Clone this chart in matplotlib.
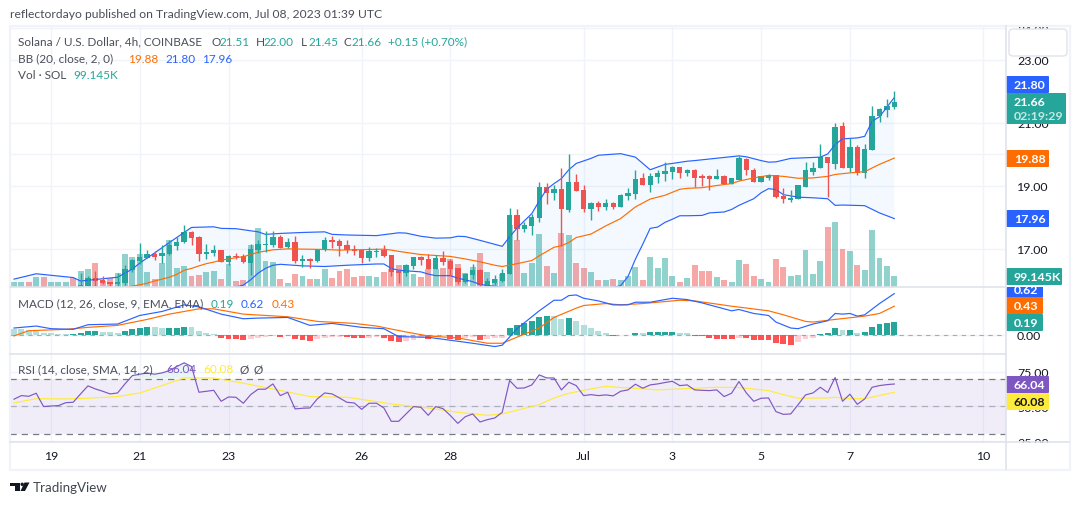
import matplotlib
matplotlib.use("Agg")
import matplotlib.pyplot as plt
import numpy as np
from matplotlib.patches import Circle, FancyBboxPatch, Polygon, Rectangle

# SOL/USD 4h candles
OPENS = [15.62, 15.66, 15.70, 15.64, 15.82, 15.66, 15.65, 15.60, 15.70, 15.79,
         15.82, 16.09, 16.01, 15.95, 15.88, 15.91, 16.33, 16.61, 16.71, 16.83,
         16.77, 16.83, 17.09, 17.21, 17.53, 17.37, 16.83, 16.87, 16.96, 16.58,
         16.77, 16.77, 16.55, 16.96, 17.12, 17.12, 17.37, 17.06, 17.21, 16.61,
         16.67, 16.61, 16.96, 17.28, 17.25, 17.12, 16.99, 16.96, 16.71, 16.90,
         16.96, 16.80, 16.29, 16.23, 16.45, 16.74, 16.67, 16.36, 16.71, 16.61,
         16.39, 15.95, 16.17, 16.33, 15.85, 15.91, 15.98, 16.20, 18.07, 17.63,
         17.72, 17.97, 18.96, 18.77, 18.89, 18.23, 19.12, 18.86, 18.26, 18.45,
         18.32, 18.45, 18.32, 18.67, 18.74, 19.24, 19.02, 19.28, 19.37, 19.43,
         19.59, 19.40, 19.49, 19.30, 19.30, 19.23, 19.30, 19.07, 19.20, 19.84,
         19.49, 19.11, 19.26, 19.33, 18.69, 18.54, 18.57, 18.95, 19.45, 19.55,
         19.90, 19.68, 20.91, 19.55, 20.22, 19.42, 20.15, 21.20, 21.42, 21.51]
HIGHS = [15.70, 15.72, 15.74, 15.82, 15.83, 15.76, 15.74, 15.70, 15.74, 16.23,
         16.15, 16.29, 16.14, 15.95, 16.23, 16.48, 16.67, 17.20, 16.96, 16.93,
         17.12, 17.28, 17.39, 17.75, 17.56, 17.40, 17.15, 17.12, 16.96, 16.80,
         16.87, 16.83, 17.15, 17.28, 17.56, 17.56, 17.44, 17.34, 17.40, 16.80,
         16.71, 16.99, 17.37, 17.40, 17.31, 17.28, 17.12, 16.99, 17.06, 17.02,
         17.12, 16.80, 16.36, 16.52, 16.74, 16.77, 16.83, 16.80, 16.93, 16.67,
         16.39, 16.23, 16.52, 16.36, 16.07, 16.17, 16.36, 18.29, 18.26, 17.85,
         18.10, 19.12, 19.08, 19.02, 19.56, 20.00, 19.37, 19.02, 18.48, 18.51,
         18.58, 18.48, 18.74, 18.93, 19.50, 19.40, 19.40, 19.50, 19.75, 19.62,
         19.59, 19.53, 19.52, 19.36, 19.33, 19.52, 19.33, 19.26, 19.96, 19.87,
         19.55, 19.30, 19.39, 19.33, 18.92, 18.88, 19.04, 19.74, 19.74, 20.34,
         19.90, 20.98, 21.01, 20.53, 20.31, 20.34, 21.52, 21.48, 21.74, 22.00]
LOWS = [15.55, 15.60, 15.60, 15.58, 15.68, 15.60, 15.60, 15.55, 15.50, 15.72,
        15.79, 15.83, 15.88, 15.79, 15.79, 15.85, 16.26, 16.52, 16.71, 16.64,
        16.55, 16.80, 16.96, 17.18, 17.12, 16.61, 16.67, 16.77, 16.58, 16.48,
        16.67, 16.55, 16.17, 16.87, 16.90, 17.06, 17.02, 17.02, 16.55, 16.42,
        16.39, 16.58, 16.93, 17.02, 16.77, 16.87, 16.80, 16.55, 16.61, 16.74,
        16.74, 16.14, 15.91, 16.14, 16.36, 16.48, 16.36, 16.36, 16.48, 16.14,
        15.88, 15.91, 16.04, 15.79, 15.79, 15.85, 15.95, 16.20, 17.28, 17.53,
        17.44, 17.85, 18.42, 18.55, 17.10, 18.17, 18.83, 18.17, 17.91, 18.20,
        18.23, 18.26, 18.32, 18.55, 18.58, 19.02, 18.80, 19.08, 19.15, 19.21,
        19.24, 19.31, 18.95, 19.01, 18.88, 19.23, 19.07, 19.07, 19.17, 19.33,
        19.11, 19.11, 19.20, 18.60, 18.44, 18.50, 18.57, 18.95, 19.33, 19.55,
        18.66, 19.52, 19.58, 19.45, 19.33, 19.26, 20.15, 21.04, 21.17, 21.45]
CLOSES = [15.66, 15.70, 15.64, 15.74, 15.74, 15.75, 15.72, 15.68, 15.60, 15.86,
          16.09, 15.98, 15.91, 15.88, 15.95, 16.36, 16.64, 16.74, 16.83, 16.74,
          16.87, 17.12, 17.21, 17.53, 17.34, 16.83, 16.90, 16.96, 16.58, 16.77,
          16.74, 16.58, 16.99, 17.15, 17.15, 17.37, 17.02, 17.21, 16.61, 16.67,
          16.61, 16.99, 17.28, 17.21, 17.09, 16.96, 16.93, 16.71, 16.93, 16.93,
          16.77, 16.26, 16.23, 16.48, 16.74, 16.64, 16.36, 16.71, 16.58, 16.36,
          15.95, 16.20, 16.33, 15.85, 15.98, 16.04, 16.23, 18.07, 17.63, 17.75,
          18.01, 18.96, 18.77, 18.89, 18.26, 19.12, 18.83, 18.26, 18.45, 18.32,
          18.45, 18.32, 18.70, 18.77, 19.21, 19.02, 19.31, 19.40, 19.47, 19.59,
          19.40, 19.50, 19.26, 19.26, 19.23, 19.30, 19.07, 19.26, 19.87, 19.49,
          19.11, 19.30, 19.33, 18.66, 18.57, 18.60, 19.01, 19.49, 19.58, 19.93,
          19.71, 20.88, 19.58, 20.22, 19.42, 20.18, 21.23, 21.45, 21.52, 21.66]

# volume in thousands of SOL
VOLUMES = [45, 45, 45, 90, 90, 45, 45, 45, 84, 144,
           162, 216, 54, 81, 126, 297, 270, 297, 135, 72,
           216, 423, 171, 189, 99, 108, 135, 144, 72, 207,
           54, 63, 378, 531, 234, 225, 72, 36, 117, 99,
           72, 72, 162, 81, 144, 162, 90, 99, 99, 90,
           135, 162, 198, 198, 117, 90, 162, 162, 171, 252,
           207, 126, 180, 306, 135, 72, 117, 558, 423, 126,
           216, 477, 189, 126, 486, 468, 216, 171, 135, 63,
           63, 72, 63, 99, 180, 63, 270, 171, 261, 99,
           45, 81, 198, 144, 144, 90, 63, 45, 243, 207,
           99, 72, 45, 252, 180, 99, 108, 333, 117, 234,
           540, 582, 342, 324, 198, 153, 513, 261, 189, 99.145]

# Bollinger bands, read at the turning bars of each line
BB_UPPER_BARS = [0, 3, 8, 9, 14, 16, 17, 19, 21, 22, 24, 27, 28, 30, 33, 34, 36, 39, 42, 43, 45,
                 49, 52, 53, 55, 57, 59, 60, 61, 63, 66, 67, 68, 69, 70, 71, 72, 73, 74, 75, 76,
                 78, 79, 82, 84, 86, 88, 89, 91, 92, 94, 98, 99, 101, 102, 103, 105, 109, 110,
                 111, 112, 114, 115, 116, 117, 119]
BB_UPPER = [16.04, 16.21, 16.09, 15.98, 16.10, 16.36, 16.55, 16.87, 17.20, 17.36, 17.68, 17.70,
            17.65, 17.64, 17.54, 17.46, 17.49, 17.52, 17.54, 17.46, 17.44,
            17.42, 17.51, 17.50, 17.40, 17.34, 17.35, 17.40, 17.39, 17.27, 17.08, 17.38, 17.66,
            17.89, 18.12, 18.52, 18.89, 19.07, 19.23, 19.51, 19.71, 19.87, 19.97, 20.02, 19.91,
            19.51, 19.68, 19.71, 19.78, 19.80, 19.85, 19.95, 19.92, 19.80, 19.75, 19.76, 19.87,
            19.91, 20.01, 20.31, 20.49, 20.52, 20.57, 21.05, 21.19, 21.80]
BB_BASIS_BARS = [0, 8, 14, 16, 17, 18, 19, 20, 21, 22, 23, 24, 25, 26, 27, 28, 30, 31, 33, 35, 37,
                 42, 44, 46, 50, 51, 52, 55, 59, 61, 63, 65, 66, 68, 70, 71, 73, 74, 75, 76, 78,
                 79, 80, 82, 84, 86, 88, 90, 91, 93, 95, 97, 98, 100, 102, 104, 106, 108, 110,
                 111, 113, 115, 117, 119]
BB_BASIS = [15.55, 15.50, 15.70, 15.82, 15.86, 15.91, 15.98, 16.04, 16.10, 16.19, 16.32, 16.38,
            16.46, 16.53, 16.58, 16.64, 16.72, 16.75, 16.89, 16.97, 17.00, 16.98, 16.96, 16.97,
            16.99, 16.96, 16.92, 16.82, 16.76, 16.68, 16.59, 16.48, 16.44, 16.53, 16.63, 16.78,
            17.05, 17.10, 17.20, 17.36, 17.47, 17.60, 17.73, 17.96, 18.33, 18.58, 18.70, 18.89,
            18.92, 18.94, 19.01, 19.07, 19.15, 19.25, 19.33, 19.30, 19.24, 19.25, 19.30, 19.36,
            19.41, 19.45, 19.68, 19.88]
BB_LOWER_BARS = [0, 15, 25, 29, 30, 31, 32, 33, 34, 35, 36, 39, 42, 45, 46, 49, 50, 51, 52, 55,
                 56, 57, 59, 60, 62, 63, 65, 66, 67, 70, 74, 78, 80, 81, 82, 83, 84, 85, 86, 87,
                 88, 89, 90, 91, 93, 94, 96, 97, 98, 100, 101, 102, 103, 104, 106, 108, 110, 111,
                 112, 115, 117, 119]
BB_LOWER = [15.30, 15.40, 15.30, 15.70, 15.79, 15.85, 16.02, 16.23, 16.38, 16.48, 16.51, 16.46,
            16.44, 16.48, 16.49, 16.52, 16.52, 16.38, 16.32, 16.27, 16.20, 16.15, 16.15, 16.07,
            15.96, 15.87, 15.81, 15.79, 15.60, 14.90, 14.50, 14.90, 15.30, 15.78, 15.83, 16.12,
            16.67, 17.15, 17.65, 17.69, 17.84, 17.94, 18.05, 18.05, 18.06, 18.14, 18.17, 18.25,
            18.38, 18.59, 18.78, 18.91, 18.88, 18.72, 18.64, 18.62, 18.59, 18.38, 18.39, 18.37,
            18.14, 17.96]

# MACD (12, 26, 9)
MACD_BARS = [0, 3, 5, 8, 10, 14, 17, 20, 23, 25, 28, 31, 33, 37, 40, 43, 47, 50, 52, 56, 60, 62,
             65, 66, 68, 71, 73, 74, 75, 76, 77, 79, 81, 83, 84, 86, 89, 91, 93, 97, 98, 100,
             102, 103, 105, 106, 108, 110, 111, 112, 113, 114, 115, 117, 119]
MACD_LINE = [0.10, 0.13, 0.09, 0.08, 0.15, 0.16, 0.29, 0.35, 0.45, 0.42, 0.31, 0.24, 0.25, 0.26,
             0.14, 0.17, 0.11, 0.09, -0.03, -0.04, -0.10, -0.13, -0.18, -0.16, 0.09, 0.36, 0.52,
             0.52, 0.59, 0.60, 0.55, 0.51, 0.45, 0.45, 0.49, 0.49, 0.55, 0.53, 0.48, 0.36, 0.38,
             0.32, 0.29, 0.19, 0.10, 0.09, 0.16, 0.21, 0.32, 0.31, 0.32, 0.28, 0.30, 0.47, 0.62]
SIGNAL_BARS = [0, 2, 7, 10, 14, 18, 21, 25, 27, 31, 37, 41, 46, 49, 53, 56, 60, 64, 66, 71, 73,
               76, 77, 80, 82, 85, 90, 92, 97, 102, 104, 107, 108, 111, 115, 117, 119]
SIGNAL_LINE = [-0.02, 0.06, 0.08, 0.11, 0.14, 0.23, 0.31, 0.39, 0.39, 0.31, 0.27, 0.20, 0.17,
               0.13, 0.04, -0.02, -0.05, -0.13, -0.13, 0.10, 0.26, 0.40, 0.44, 0.47, 0.45, 0.47,
               0.52, 0.51, 0.43, 0.36, 0.30, 0.20, 0.19, 0.23, 0.28, 0.32, 0.43]
MACD_HIST = [0.09, 0.08, 0.07, 0.06, 0.025, 0.02, 0.015, 0.01, 0.015, 0.025,
             0.055, 0.056, 0.045, 0.04, 0.03, 0.06, 0.085, 0.10, 0.116, 0.11,
             0.095, 0.10, 0.105, 0.117, 0.11, 0.055, 0.025, 0.005, -0.05, -0.06,
             -0.065, -0.075, -0.06, -0.05, -0.035, -0.025, -0.03, -0.015, -0.065, -0.08,
             -0.095, -0.065, -0.055, -0.04, -0.03, -0.04, -0.045, -0.05, -0.045, -0.04,
             -0.055, -0.09, -0.11, -0.095, -0.08, -0.055, -0.06, -0.03, -0.028, -0.065,
             -0.075, -0.05, -0.04, -0.08, -0.065, -0.055, -0.05, 0.10, 0.14, 0.175,
             0.21, 0.27, 0.28, 0.275, 0.24, 0.245, 0.205, 0.15, 0.105, 0.055,
             0.025, -0.015, -0.012, -0.005, 0.025, 0.02, 0.04, 0.041, 0.042, 0.043,
             0.02, 0.018, -0.015, -0.025, -0.045, -0.065, -0.07, -0.072, -0.045, -0.05,
             -0.075, -0.076, -0.077, -0.125, -0.147, -0.152, -0.115, -0.065, -0.045, 0.01,
             0.025, 0.10, 0.07, 0.072, 0.025, 0.045, 0.12, 0.16, 0.175, 0.19]

# RSI (14) with its SMA
RSI = [55.1, 57.7, 57.2, 59.4, 49.8, 50.2, 50.5, 52.6, 52.9, 58.9,
       64.7, 62.5, 60.8, 58.9, 59.6, 66.1, 72.1, 73.1, 74.0, 73.1,
       74.0, 75.7, 78.6, 81.3, 78.6, 60.1, 60.8, 61.5, 53.6, 56.7,
       56.5, 52.2, 58.4, 62.3, 62.3, 66.1, 57.7, 60.1, 48.1, 48.6,
       48.8, 55.3, 59.6, 58.9, 56.0, 52.9, 52.4, 47.8, 52.2, 52.2,
       48.8, 39.2, 39.2, 44.5, 49.8, 49.3, 43.5, 49.8, 48.3, 43.3,
       37.7, 42.5, 44.5, 38.7, 40.4, 41.6, 45.7, 68.5, 63.0, 63.2,
       65.4, 72.6, 70.4, 70.4, 61.8, 67.3, 64.9, 57.7, 58.4, 57.7,
       58.2, 57.5, 60.8, 61.8, 65.9, 63.0, 65.4, 66.1, 67.1, 68.0,
       64.9, 65.4, 61.8, 61.5, 61.3, 61.8, 57.0, 59.4, 67.8, 59.6,
       53.6, 55.8, 56.0, 46.2, 44.2, 44.5, 51.2, 58.2, 59.6, 63.7,
       59.9, 70.7, 53.6, 58.7, 51.4, 55.3, 63.7, 64.9, 65.6, 66.04]
RSI_MA_BARS = [0, 3, 7, 10, 14, 17, 20, 23, 27, 31, 35, 40, 45, 49, 51, 56, 60, 64, 66, 71, 73,
               75, 78, 80, 82, 84, 87, 90, 95, 98, 102, 104, 106, 110, 111, 113, 115, 119]
RSI_MA = [52.4, 55.5, 55.3, 55.8, 57.0, 59.6, 64.9, 70.4, 70.4, 66.6, 62.5, 57.0, 56.5, 53.4,
          51.7, 48.8, 45.7, 43.5, 44.5, 51.2, 56.0, 59.4, 62.5, 64.4, 63.5, 63.0, 61.8, 62.5,
          63.7, 63.5, 61.3, 58.4, 55.8, 56.0, 56.5, 55.5, 55.5, 60.08]

# one tick per labelled session on the time scale
TIME_TICK_BARS = [5, 17, 29, 47, 59, 77, 89, 101, 113, 131]
TIME_TICK_LABELS = ["19", "21", "23", "26", "28", "Jul", "3", "5", "7", "10"]
PRICE_TICKS = [17, 19, 20, 21, 23, 24]
MACD_TICKS = [0.0]
RSI_TICKS = [25, 50, 75]

GREEN = "#26a69a"
RED = "#ef5350"
BLUE = "#2962ff"
ORANGE = "#ff6d00"
PURPLE = "#7e57c2"
YELLOW = "#ffeb3b"
TEXT = "#131722"
SOFT = "#4a4e59"
GRID = "#f0f3fa"
SEP = "#e0e3eb"
LINE_W = 0.85

W, H = 1080, 506
plt.rcParams["font.family"] = ["Lato", "DejaVu Sans"]

fig = plt.figure(figsize=(W / 100, H / 100), dpi=100, facecolor="white")


def pane(top, bottom, ylim, zorder):
    # axes placed by pixel rows, with the shared bar-index x scale
    ax = fig.add_axes([10 / W, 1 - bottom / H, 996 / W, (bottom - top) / H], zorder=zorder)
    ax.set_xlim(-0.54, 134.1)
    ax.set_ylim(*ylim)
    ax.patch.set_visible(False)
    for side in ax.spines.values():
        side.set_visible(False)
    ax.tick_params(length=0)
    ax.set_xticks([])
    ax.set_yticks([])
    return ax


def grid_on(ax, ticks):
    ax.set_xticks(TIME_TICK_BARS)
    ax.set_xticklabels([])
    ax.yaxis.tick_right()
    ax.set_yticks(ticks)
    ax.set_yticklabels([f"{t:.2f}" for t in ticks], fontsize=8.9, color=TEXT)
    ax.tick_params(axis="y", pad=8)
    ax.grid(True, color=GRID, linewidth=1)
    ax.set_axisbelow(True)


bars = np.arange(len(CLOSES))
opens = np.array(OPENS)
highs = np.array(HIGHS)
lows = np.array(LOWS)
closes = np.array(CLOSES)
up = closes >= opens
candle_colors = np.where(up, GREEN, RED)

PRICE_LIM = (15.79, 24.07)

# price pane: grid at the back, then volume, then bands and candles
ax_back = pane(27, 288, PRICE_LIM, 1)
grid_on(ax_back, PRICE_TICKS)

ax_vol = pane(27, 288, (0, 2349), 2)
ax_vol.bar(bars, VOLUMES, width=0.8, color=candle_colors, alpha=0.5, linewidth=0)

ax = pane(27, 288, PRICE_LIM, 3)
band_x = BB_UPPER_BARS + BB_LOWER_BARS[::-1]
band_y = BB_UPPER + BB_LOWER[::-1]
ax.fill(band_x, band_y, color="#2196f3", alpha=0.05, linewidth=0)
ax.plot(BB_BASIS_BARS, BB_BASIS, color=ORANGE, linewidth=LINE_W)
ax.plot(BB_UPPER_BARS, BB_UPPER, color=BLUE, linewidth=LINE_W)
ax.plot(BB_LOWER_BARS, BB_LOWER, color=BLUE, linewidth=LINE_W)
ax.vlines(bars, lows, highs, colors=candle_colors, linewidth=1)
ax.bar(bars, closes - opens, bottom=opens, width=0.72, color=candle_colors, linewidth=0)

# MACD pane
ax_macd = pane(288, 354.5, (-0.285, 0.72), 3)
grid_on(ax_macd, MACD_TICKS)
ax_macd.axhline(0, color="#787b86", linewidth=0.8, linestyle=(0, (4, 4)), alpha=0.6)
hist_colors = []
for i, v in enumerate(MACD_HIST):
    rising = i > 0 and v >= MACD_HIST[i - 1]
    if v >= 0:
        hist_colors.append(GREEN if rising else "#b2dfdb")
    else:
        hist_colors.append("#ffcdd2" if rising else "#ff5252")
ax_macd.bar(bars, MACD_HIST, width=0.8, color=hist_colors, linewidth=0)
ax_macd.plot(SIGNAL_BARS, SIGNAL_LINE, color=ORANGE, linewidth=LINE_W)
ax_macd.plot(MACD_BARS, MACD_LINE, color=BLUE, linewidth=LINE_W)

# RSI pane
ax_rsi = pane(354.5, 443, (24.3, 88), 3)
grid_on(ax_rsi, RSI_TICKS)
ax_rsi.axhspan(30, 70, color=PURPLE, alpha=0.1, linewidth=0)
for level, shade in ((70, 1.0), (50, 0.5), (30, 1.0)):
    ax_rsi.axhline(level, color="#787b86", linewidth=0.9, linestyle=(0, (5, 4)), alpha=shade)
rsi = np.array(RSI)
ax_rsi.fill_between(bars, rsi, 70, where=rsi > 70, interpolate=True, color=GREEN, alpha=0.1,
                    linewidth=0)
ax_rsi.plot(RSI_MA_BARS, RSI_MA, color=YELLOW, linewidth=LINE_W)
ax_rsi.plot(bars, rsi, color=PURPLE, linewidth=LINE_W)

# overlay in pixel coordinates for the frame, tags and text
ui = fig.add_axes([0, 0, 1, 1], zorder=10)
ui.set_xlim(0, W)
ui.set_ylim(H, 0)
ui.axis("off")

ui.add_patch(Rectangle((0, 443.5), 1006, 27, facecolor="white", edgecolor="none"))
ui.add_patch(Rectangle((1007, 443.5), 62, 27, facecolor="white", edgecolor="none"))
ui.plot([10, 1006], [288, 288], color=SEP, linewidth=1.2)
ui.plot([10, 1006], [354.5, 354.5], color=SEP, linewidth=1.2)
ui.plot([10, 1069], [443, 443], color=SEP, linewidth=1.2)
ui.plot([1006, 1006], [27, 470], color=SEP, linewidth=1.2)
ui.add_patch(Rectangle((10, 27), 1059.5, 443.5, facecolor="none", edgecolor=GRID, linewidth=1.6))
ui.add_patch(FancyBboxPatch((1011, 32), 54, 23, boxstyle="round,pad=2,rounding_size=4",
                            facecolor="white", edgecolor=SEP, linewidth=1))


def txt(x, y, s, color=SOFT, size=8.5, **kw):
    ui.text(x, y, s, color=color, fontsize=size, va="center", ha=kw.pop("ha", "left"), **kw)


def tag(y0, y1, x1, s, fill, color="white"):
    ui.add_patch(FancyBboxPatch((1006, y0), x1 - 1006, y1 - y0, boxstyle="round,pad=0,rounding_size=1",
                                facecolor=fill, edgecolor="none"))
    txt(1014, (y0 + y1) / 2, s, color=color, size=8.9, fontweight="bold")


tag(77, 94, 1049, "21.80", BLUE)
ui.add_patch(FancyBboxPatch((1006, 94), 60, 31, boxstyle="round,pad=0,rounding_size=1",
                            facecolor=GREEN, edgecolor="none"))
txt(1014, 102.8, "21.66", color="white", size=8.9, fontweight="bold")
txt(1014, 116.5, "02:19:29", color="#c5e8e4", size=8.9, fontweight="bold")
tag(151, 168, 1049, "19.88", ORANGE)
tag(211, 228, 1049, "17.96", BLUE)
tag(269, 286, 1062, "99.145K", GREEN)

# MACD tags stack under the pane edge, the top one is cut off by it
ui.add_patch(Rectangle((1006, 288), 37, 10, facecolor=BLUE, edgecolor="none"))
ui.text(1014, 290.5, "0.62", color="white", fontsize=8.9, fontweight="bold", va="center",
        clip_on=True, clip_path=Rectangle((1006, 288), 37, 10, transform=ui.transData))
tag(298, 315, 1043, "0.43", ORANGE)
tag(315, 332, 1043, "0.19", GREEN)
tag(377, 394, 1049, "66.04", PURPLE)
tag(394, 411, 1049, "60.08", YELLOW, color=TEXT)

for bar, label in zip(TIME_TICK_BARS, TIME_TICK_LABELS):
    px = 14 + 7.395 * bar
    txt(px, 456.5, label, ha="center", color=TEXT, size=8.8)

txt(10, 14.5, "reflectordayo published on TradingView.com, Jul 08, 2023 01:39 UTC", size=8.7)

txt(18, 42, "Solana / U.S. Dollar, 4h, COINBASE")
for x, head, value in ((211, "O", "21.51"), (256, "H", "22.00"), (300.5, "L", "21.45"), (344, "C", "21.66")):
    txt(x, 42, head)
    txt(x + 8, 42, value, color=GREEN)
txt(388, 42, "+0.15 (+0.70%)", color=GREEN)

txt(18, 59, "BB (20, close, 2, 0)")
txt(128, 59, "19.88", color=ORANGE)
txt(165, 59, "21.80", color=BLUE)
txt(202, 59, "17.96", color=BLUE)

txt(18, 75.5, "Vol · SOL")
txt(73, 75.5, "99.145K", color=GREEN)

txt(18, 304, "MACD (12, 26, close, 9, EMA, EMA)")
txt(211, 304, "0.19", color=GREEN)
txt(241, 304, "0.62", color=BLUE)
txt(272, 304, "0.43", color=ORANGE)

txt(18, 369.5, "RSI (14, close, SMA, 14, 2)")
txt(166, 369.5, "66.04", color=PURPLE)
txt(203, 369.5, "60.08", color=YELLOW)
txt(240, 369.5, "Ø")
txt(253, 369.5, "Ø")

# wordmark and logo under the chart
ui.add_patch(Polygon([(10, 483.5), (20, 483.5), (20, 492), (15, 492), (15, 487), (10, 487)],
                     facecolor=TEXT, edgecolor="none"))
ui.add_patch(Circle((22.2, 485.3), 1.7, facecolor=TEXT, edgecolor="none"))
ui.add_patch(Polygon([(24.5, 483.5), (29.5, 483.5), (25, 492), (20.5, 492)], facecolor=TEXT,
                     edgecolor="none"))
txt(33, 488, "TradingView", color="#434651", size=9.6)

fig.savefig("out.png", dpi=100)
